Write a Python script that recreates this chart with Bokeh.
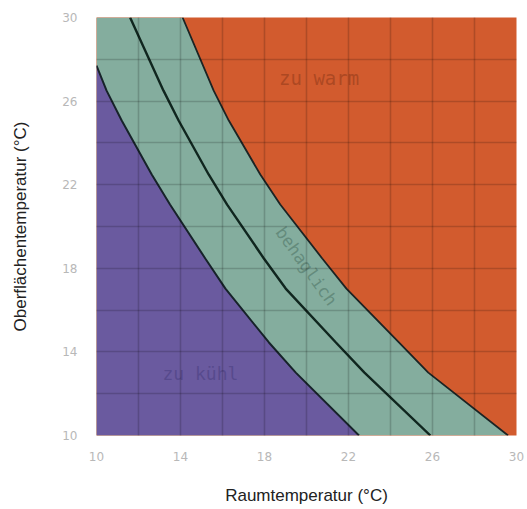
from bokeh.plotting import figure
from bokeh.models import FixedTicker, Range1d
from bokeh.core.properties import value
from bokeh.embed import file_html
from bokeh.resources import INLINE

# Curve x-positions at given surface-temperature levels
y_levels = [30, 26.5, 25.07, 22.49, 21.05, 18.47, 17.03, 14.45, 13.01, 10]
lower_y = [27.7, 26.5, 25.07, 22.49, 21.05, 18.47, 17.03, 14.45, 13.01, 10]
lower_x = [10.0, 10.48, 11.2, 12.63, 13.5, 15.18, 16.14, 18.21, 19.49, 22.5]
middle_x = [11.6, 13.19, 13.91, 15.34, 16.22, 17.97, 19.01, 21.4, 22.76, 25.9]
upper_x = [14.1, 15.58, 16.3, 17.8, 18.75, 20.75, 21.9, 24.4, 25.8, 29.6]

tick_values = [10, 14, 18, 22, 26, 30]
grid_values = [10, 12, 14, 16, 18, 20, 22, 24, 26, 28, 30]

labels = ["zu warm", "zu kühl", "behaglich"]
label_x = [20.6, 14.95, 20.0]
label_y = [27.1, 12.97, 18.1]

p = figure(width=527, height=509, output_backend="svg", toolbar_location=None,
           x_range=Range1d(10, 30), y_range=Range1d(10, 30),
           min_border_left=96, min_border_right=11, min_border_top=17, min_border_bottom=74)
p.outline_line_color = None
p.background_fill_color = "#d25b2e"
p.border_fill_color = "white"

# comfortable zone (under upper curve)
p.harea(x1=[10] * len(y_levels), x2=upper_x, y=y_levels, fill_color="#84ad9e")
# too cool zone (under lower curve)
p.harea(x1=[10] * len(lower_y), x2=lower_x, y=lower_y, fill_color="#6a5a9f")

p.line(lower_x, lower_y, line_color="#17232a", line_width=2.0)
p.line(middle_x, y_levels, line_color="#10261f", line_width=2.4)
p.line(upper_x, y_levels, line_color="#1c2424", line_width=1.8)

p.text(x=[label_x[0]], y=[label_y[0]], text=[labels[0]], text_align="center",
       text_baseline="middle", text_font=value("DejaVu Sans Mono"),
       text_font_size="19px", text_color="#a3431f", text_alpha=0.8)
p.text(x=[label_x[1]], y=[label_y[1]], text=[labels[1]], text_align="center",
       text_baseline="middle", text_font=value("DejaVu Sans Mono"),
       text_font_size="18px", text_color="#56498c", text_alpha=0.95)
p.text(x=[label_x[2]], y=[label_y[2]], text=[labels[2]], text_align="center",
       text_baseline="middle", text_font=value("DejaVu Sans Mono"),
       text_font_size="17px", text_color="#62897a", text_alpha=0.95,
       angle=-0.95)

for g in (p.xgrid, p.ygrid):
    g.ticker = FixedTicker(ticks=grid_values)
    g.grid_line_color = "#000000"
    g.grid_line_alpha = 0.17
    g.grid_line_width = 1.6
    g.level = "overlay"

for ax in (p.xaxis, p.yaxis):
    ax.ticker = FixedTicker(ticks=tick_values)
    ax.axis_line_color = None
    ax.major_tick_line_color = None
    ax.minor_tick_line_color = None
    ax.major_label_text_color = "#b8b8b8"
    ax.major_label_text_font = "DejaVu Sans"
    ax.major_label_text_font_size = "12px"
    ax.axis_label_text_font = "Liberation Sans"
    ax.axis_label_text_font_size = "17px"
    ax.axis_label_text_font_style = "normal"
    ax.axis_label_text_color = "#222222"

p.xaxis.axis_label = "Raumtemperatur (°C)"
p.yaxis.axis_label = "Oberflächentemperatur (°C)"
p.xaxis.major_label_standoff = 10
p.yaxis.major_label_standoff = 13
p.xaxis.axis_label_standoff = 22
p.yaxis.axis_label_standoff = 29

open("out.html", "w").write(file_html(p, INLINE))
